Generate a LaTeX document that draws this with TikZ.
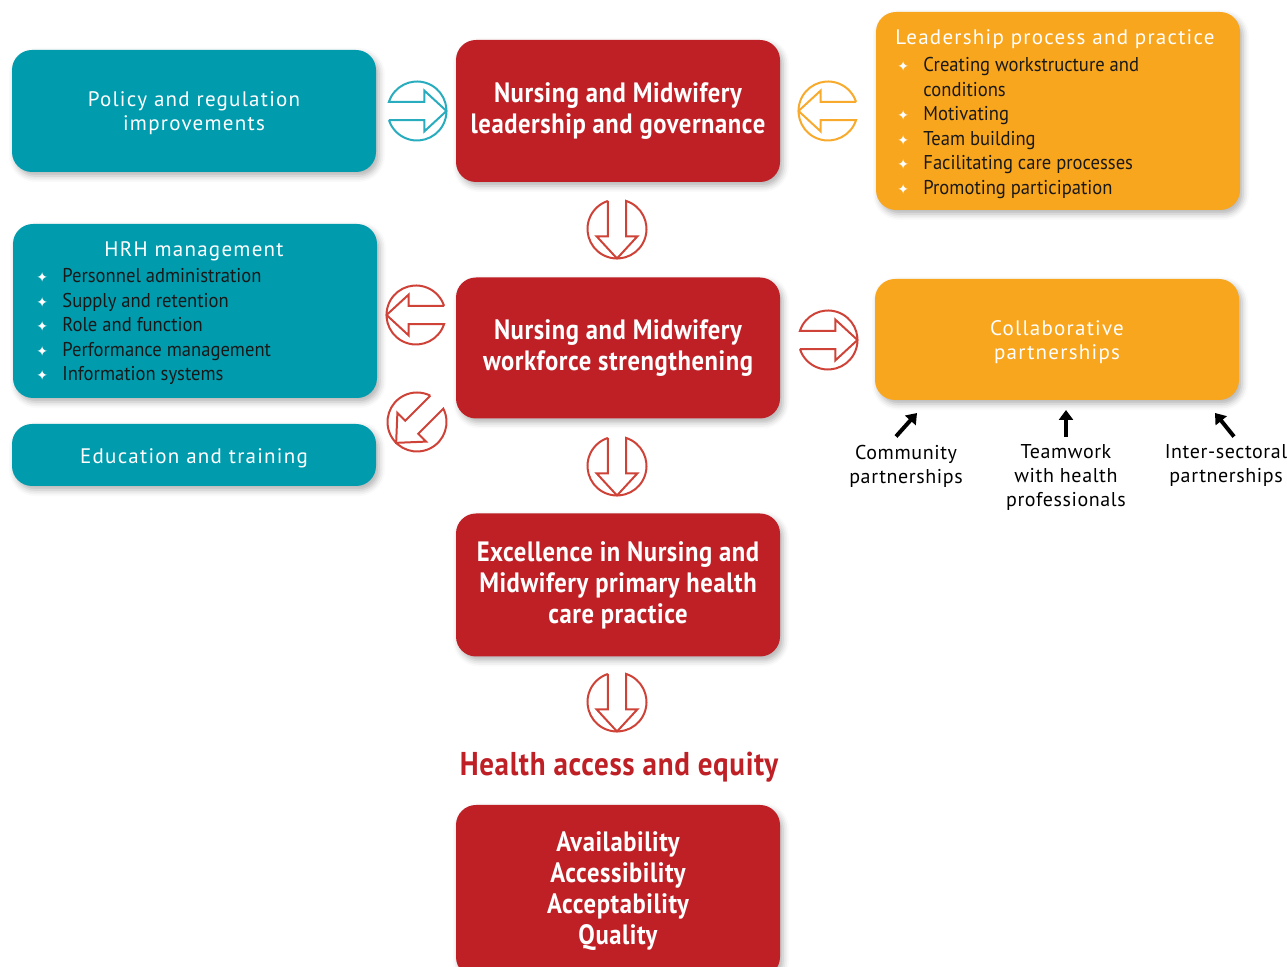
\documentclass[tikz,border=0pt]{standalone}
\usepackage{fontspec}
\setmainfont{PT Sans}[LetterSpace=3]
\newfontfamily\titlefont{PT Sans}[LetterSpace=6]
\newfontfamily\boxfont{PT Sans}[FakeStretch=0.88, LetterSpace=2]
\newfontfamily\listfont{PT Sans}[FakeStretch=0.93]
\newfontfamily\symfont{DejaVu Sans}
\usetikzlibrary{arrows.meta,calc,shadows.blur}

\definecolor{nmred}{RGB}{190,32,38}
\definecolor{nmteal}{RGB}{0,156,174}
\definecolor{nmorange}{RGB}{249,166,31}
\definecolor{ringred}{RGB}{206,66,56}
\definecolor{ringteal}{RGB}{40,172,190}
\definecolor{ringorange}{RGB}{247,170,44}

\newcommand{\bul}{\makebox[13pt][l]{\color{white}\symfont\fontsize{7}{7}\selectfont ✦}}

\begin{document}
\begin{tikzpicture}[x=.5pt, y=-.5pt,
  box/.style={rounded corners=10pt, inner sep=0pt, align=center,
    blur shadow={shadow xshift=1.5pt, shadow yshift=-2pt, shadow blur radius=3pt, shadow opacity=30}},
  redbox/.style={box, fill=nmred, text=white, minimum width=162pt,
    font=\boxfont\bfseries\fontsize{14}{15.5}\selectfont},
  tealbox/.style={box, fill=nmteal, minimum width=182pt},
  orangebox/.style={box, fill=nmorange, minimum width=182pt},
  title/.style={text=white, align=center, inner sep=0pt, font=\titlefont\fontsize{10.5}{12}\selectfont},
  items/.style={anchor=north west, align=left, inner sep=0pt, text=black!90,
    font=\listfont\fontsize{10}{12.25}\selectfont},
  side/.style={align=center, inner sep=0pt, font=\fontsize{10}{12}\selectfont},
  pointer/.style={line width=2pt, -{Triangle[length=5pt,width=7pt]}},
  ring/.pic={\draw[line width=1pt] (-0.951,0.31) -- (0.25,0.31) -- (0.25,0.69) -- (1,0)
    -- (0.25,-0.69) -- (0.25,-0.31) -- (-0.951,-0.31) arc[start angle=-161.94, end angle=161.94, radius=1];}]
  \useasboundingbox (0,0) rectangle (1287,967);
  \clip (0,0) rectangle (1287,967);

  % centre column
  \node[redbox, minimum height=71pt] (lead) at (618,111) {Nursing and Midwifery\\leadership and governance};
  \node[redbox, minimum height=70.5pt] (work) at (618,348) {Nursing and Midwifery\\workforce strengthening};
  \node[redbox, minimum height=71.5pt] (excel) at (618,585) {Excellence in Nursing and\\Midwifery primary health\\care practice};
  \node[text=nmred, font=\boxfont\bfseries\fontsize{16.5}{18}\selectfont] (access) at (619,767) {Health access and equity};
  \node[redbox, minimum height=86pt] (avail) at (618,891) {Availability\\Accessibility\\Acceptability\\Quality};

  % left column
  \node[tealbox, minimum height=61pt] (policy) at (194,111) {};
  \node[title] (policytext) at (194,113) {Policy and regulation\\improvements};
  \node[tealbox, minimum height=87pt] (hrh) at (195,311) {};
  \node[title] (hrhtitle) at (194,251) {HRH management};
  \node[items] (hrhlist) at (36,268) {\bul Personnel administration\\ \bul Supply and retention\\
    \bul Role and function\\ \bul Performance management\\ \bul Information systems};
  \node[tealbox, minimum height=31pt] (educ) at (194,455) {};
  \node[title] (eductext) at (194,458) {Education and training};

  % right column
  \node[orangebox, minimum height=99pt] (lpp) at (1058,111) {};
  \node[title] (lpptitle) at (1055,39) {Leadership process and practice};
  \node[items] (lpplist) at (897,57) {\bul Creating workstructure and\\ \hspace*{13pt}conditions\\
    \bul Motivating\\ \bul Team building\\ \bul Facilitating care processes\\ \bul Promoting participation};
  \node[orangebox, minimum height=60.5pt] (collab) at (1057,339.5) {};
  \node[title] (collabtext) at (1057,342) {Collaborative\\partnerships};

  \node[side] (comm) at (906,466) {Community\\partnerships};
  \node[side] (team) at (1066,478) {Teamwork\\with health\\professionals};
  \node[side] (inter) at (1226,466) {Inter-sectoral\\partnerships};

  \coordinate (commtip) at (917,413);
  \coordinate (teamtip) at (1066,410);
  \coordinate (intertip) at (1215,413);
  \draw[pointer] ($(comm.north)+(-10,-8)$) -- (commtip);
  \draw[pointer] ($(team.north)+(0,-8)$) -- (teamtip);
  \draw[pointer] ($(inter.north)+(8,-8)$) -- (intertip);

  % ring arrows
  \pic[color=ringteal, scale=29.5] at (417,111) {ring};
  \pic[color=ringorange, scale=29.5, rotate=180] at (828,111) {ring};
  \pic[color=ringred, scale=29.5, rotate=-90] at (617,229) {ring};
  \pic[color=ringred, scale=29.5, rotate=-90] at (617,466) {ring};
  \pic[color=ringred, scale=29.5, rotate=-90] at (617,702) {ring};
  \pic[color=ringred, scale=29.5, rotate=180] at (416,315) {ring};
  \pic[color=ringred, scale=29.5, rotate=-135] at (417,422) {ring};
  \pic[color=ringred, scale=29.5] at (828,340) {ring};
\end{tikzpicture}
\end{document}
